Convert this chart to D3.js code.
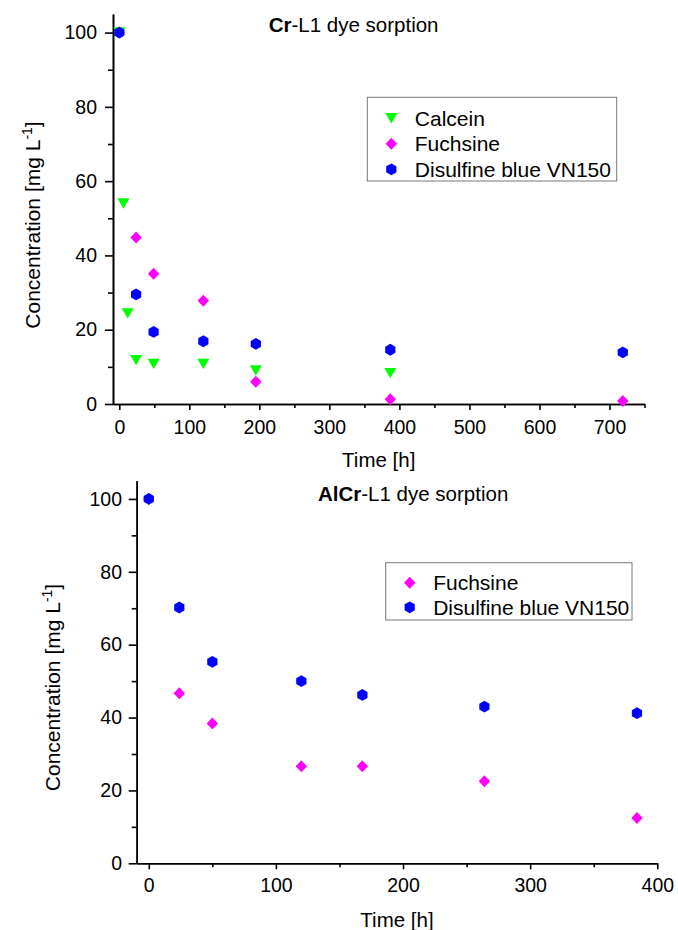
<!DOCTYPE html>
<html>
<head>
<meta charset="utf-8">
<script src="https://cdn.jsdelivr.net/npm/d3@7"></script>
<style>
	body { margin: 0; background: #fff; }
	svg { display: block; font-family: "Liberation Sans", Arial, sans-serif; }
	.axis path, .axis line { stroke: #000; stroke-width: 1.6; }
	.axis text { font-size: 19.5px; fill: #000; }
</style>
</head>
<body>
<div id="chart-area"></div>
<script>
// Cr-L1 panel
const crCalceinTime = [0, 6, 12, 24, 49, 120, 195, 387];
const crCalceinConc = [100, 54.0, 24.4, 11.8, 10.8, 10.8, 9.0, 8.3];
const crFuchsineTime = [0, 24, 49, 120, 195, 387, 719];
const crFuchsineConc = [100, 44.8, 35.1, 27.8, 6.0, 1.3, 0.8];
const crDisulfineTime = [0, 24, 49, 120, 195, 387, 719];
const crDisulfineConc = [100, 29.5, 19.4, 16.9, 16.2, 14.6, 13.9];
const crXTicks = [0, 100, 200, 300, 400, 500, 600, 700];
const crXMinor = [50, 150, 250, 350, 450, 550, 650, 750];

// AlCr-L1 panel
const alcrTime = [0, 24, 50, 120, 168, 264, 384];
const alcrFuchsineConc = [100, 46.7, 38.4, 26.6, 26.6, 22.5, 12.4];
const alcrDisulfineConc = [100, 70.2, 55.3, 50.0, 46.2, 43.0, 41.2];
const alcrXTicks = [0, 100, 200, 300, 400];
const alcrXMinor = [50, 150, 250, 350];

const yTicks = [0, 20, 40, 60, 80, 100];
const yMinor = [10, 30, 50, 70, 90];

const seriesNames = ["Calcein", "Fuchsine", "Disulfine blue VN150"];

// marker shapes
const triangleDown = {
	draw(ctx) {
		ctx.moveTo(-6, -5.2);
		ctx.lineTo(6, -5.2);
		ctx.lineTo(0, 5.2);
		ctx.closePath();
	}
};
const diamond = {
	draw(ctx) {
		ctx.moveTo(0, -6);
		ctx.lineTo(5.7, 0);
		ctx.lineTo(0, 6);
		ctx.lineTo(-5.7, 0);
		ctx.closePath();
	}
};
const hexagon = {
	draw(ctx) {
		for (let i = 0; i < 6; i++) {
			const a = Math.PI / 6 + i * Math.PI / 3;
			const px = 5.9 * Math.cos(a), py = 5.9 * Math.sin(a);
			if (i === 0) ctx.moveTo(px, py); else ctx.lineTo(px, py);
		}
		ctx.closePath();
	}
};

const style = {
	"Calcein": { shape: triangleDown, color: "#00ff00" },
	"Fuchsine": { shape: diamond, color: "#ff00ff" },
	"Disulfine blue VN150": { shape: hexagon, color: "#0000ff" }
};

const svg = d3.select("#chart-area").append("svg")
	.attr("width", 678)
	.attr("height", 930);

svg.append("rect").attr("width", 678).attr("height", 930).attr("fill", "#fff");

const drawPanel = p => {
	const x = d3.scaleLinear().domain(p.xDomain).range([p.left, p.right]);
	const y = d3.scaleLinear().domain([0, 105]).range([p.bottom, p.top]);

	const g = svg.append("g");

	// minor ticks first, then major axes on top
	g.append("g").attr("class", "axis")
		.attr("transform", `translate(${p.left},0)`)
		.call(d3.axisLeft(y).tickValues(yMinor).tickSize(5).tickSizeOuter(0).tickFormat(""));
	g.append("g").attr("class", "axis")
		.attr("transform", `translate(0,${p.bottom})`)
		.call(d3.axisBottom(x).tickValues(p.xMinor).tickSize(4).tickSizeOuter(0).tickFormat(""));

	g.append("g").attr("class", "axis")
		.attr("transform", `translate(${p.left},0)`)
		.call(d3.axisLeft(y).tickValues(yTicks).tickSize(8).tickSizeOuter(0).tickPadding(p.yPad));
	g.append("g").attr("class", "axis")
		.attr("transform", `translate(0,${p.bottom})`)
		.call(d3.axisBottom(x).tickValues(p.xTicks).tickSize(6).tickSizeOuter(0).tickPadding(p.xPad));

	g.selectAll(".axis text").attr("font-family", null);

	// axis titles
	g.append("text")
		.attr("x", (p.left + p.right) / 2)
		.attr("y", p.xLabelY)
		.attr("text-anchor", "middle")
		.attr("font-size", "20.5px")
		.text("Time [h]");

	const yl = g.append("text")
		.attr("transform", `translate(${p.yLabelX},${p.yLabelY}) rotate(-90)`)
		.attr("text-anchor", "middle")
		.attr("font-size", "21px");
	yl.append("tspan").text("Concentration [mg L");
	yl.append("tspan").attr("font-size", "14px").attr("dy", -8).text("-1");
	yl.append("tspan").attr("dy", 8).text("]");

	// panel title
	const t = g.append("text")
		.attr("x", p.titleX)
		.attr("y", p.titleY)
		.attr("font-size", "20.5px");
	t.append("tspan").attr("font-weight", "bold").text(p.titleBold);
	t.append("tspan").text("-L1 dye sorption");

	// points
	p.series.forEach(s => {
		const st = style[s.name];
		g.append("g").selectAll("path")
			.data(s.time.map((d, i) => ({ t: d, c: s.conc[i] })))
			.enter()
			.append("path")
			.attr("d", d3.symbol().type(st.shape))
			.attr("transform", d => `translate(${x(d.t)},${y(d.c)})`)
			.attr("fill", st.color);
	});

	// legend
	const lg = g.append("g");
	lg.append("rect")
		.attr("x", p.legend.x)
		.attr("y", p.legend.y)
		.attr("width", p.legend.w)
		.attr("height", p.legend.h)
		.attr("fill", "#fff")
		.attr("stroke", "#777")
		.attr("stroke-width", 1);
	p.series.forEach((s, i) => {
		const cy = p.legend.y + p.legend.first + i * p.legend.step;
		lg.append("path")
			.attr("d", d3.symbol().type(style[s.name].shape))
			.attr("transform", `translate(${p.legend.x + 24},${cy})`)
			.attr("fill", style[s.name].color);
		lg.append("text")
			.attr("x", p.legend.x + 47.5)
			.attr("y", cy + 7.5)
			.attr("font-size", "21px")
			.text(s.name);
	});
};

drawPanel({
	xDomain: [-9, 750], left: 113, right: 644.5, top: 14, bottom: 404,
	xTicks: crXTicks, xMinor: crXMinor, xPad: 10.5, yPad: 8,
	xLabelY: 467, yLabelX: 40, yLabelY: 225,
	titleX: 268.7, titleY: 32, titleBold: "Cr",
	legend: { x: 367.3, y: 97.3, w: 249.4, h: 83.7, first: 21, step: 25.5 },
	series: [
		{ name: seriesNames[0], time: crCalceinTime, conc: crCalceinConc },
		{ name: seriesNames[1], time: crFuchsineTime, conc: crFuchsineConc },
		{ name: seriesNames[2], time: crDisulfineTime, conc: crDisulfineConc }
	]
});

drawPanel({
	xDomain: [-9.5, 400], left: 136.7, right: 657.3, top: 480.7, bottom: 863.3,
	xTicks: alcrXTicks, xMinor: alcrXMinor, xPad: 8.9, yPad: 6.7,
	xLabelY: 927, yLabelX: 60, yLabelY: 687.5,
	titleX: 318, titleY: 500.5, titleBold: "AlCr",
	legend: { x: 385.7, y: 562.7, w: 246.3, h: 57.3, first: 20, step: 24.6 },
	series: [
		{ name: seriesNames[1], time: alcrTime, conc: alcrFuchsineConc },
		{ name: seriesNames[2], time: alcrTime, conc: alcrDisulfineConc }
	]
});
</script>
</body>
</html>
